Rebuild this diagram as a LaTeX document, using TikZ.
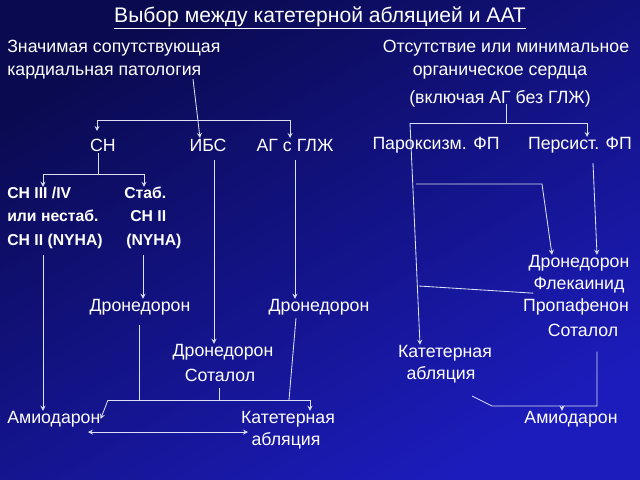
\documentclass[tikz,border=0pt]{standalone}
\usepackage{fontspec}
\setmainfont{Liberation Sans}
\usetikzlibrary{calc, positioning}
\tikzset{
	txt/.style = {text=white, inner sep=0pt, font=\fontsize{12.6}{14}\selectfont},
	bld/.style = {txt, font=\fontsize{11.2}{12}\selectfont\bfseries},
	conn/.style = {draw=linegray, line width=0.6pt},
	arr/.style = {conn, -stealth},
}
\definecolor{linegray}{HTML}{DCE0F4}
\definecolor{bgdark}{HTML}{0A0A50}
\definecolor{bgmid}{HTML}{1010A0}
\definecolor{bglight}{HTML}{1C1CBC}

\begin{document}
\begin{tikzpicture}[x=0.025cm, y=-0.025cm]
	\shade[top color=bgdark, middle color=bgmid, bottom color=bglight, shading angle=30] (0,0) rectangle (640,480);
	\useasboundingbox (0,0) rectangle (640,480);

	\node[txt, font=\fontsize{15}{16}\selectfont] (title) at (320,18) {\underline{Выбор между катетерной абляцией и ААТ}};

	\node[txt, anchor=west] (zn1) at (7,48) {Значимая сопутствующая};
	\node[txt, anchor=west] (zn2) at (7,73) {кардиальная патология};
	\node[txt] (ot1) at (506,48) {Отсутствие или минимальное};
	\node[txt] (ot2) at (500,73) {органическое сердца};
	\node[txt] (ot3) at (500,99) {(включая АГ без ГЛЖ)};

	\node[txt] (sn) at (103,145) {СН};
	\node[txt] (ibs) at (208,145) {ИБС};
	\node[txt] (ag) at (295,145) {АГ с ГЛЖ};
	\node[txt] (parox) at (436,145) {Пароксизм. ФП};
	\node[txt] (pers) at (580,145) {Персист. ФП};

	\node[bld, anchor=west] (hf1) at (7,193) {СН III /IV};
	\node[bld, anchor=west] (hf2) at (7,216) {или нестаб.};
	\node[bld, anchor=west] (hf3) at (7,241) {СН II (NYHA)};
	\node[bld, anchor=west] (st1) at (124,193) {Стаб.};
	\node[bld, anchor=west] (st2) at (130,216) {СН II};
	\node[bld, anchor=west] (st3) at (126,241) {(NYHA)};

	\node[txt] (dr1) at (140,307) {Дронедорон};
	\node[txt] (dr2) at (319,307) {Дронедорон};
	\node[txt] (dr3) at (223,352) {Дронедорон};
	\node[txt] (sot1) at (220,375) {Соталол};
	\node[txt] (dr4) at (579,263) {Дронедорон};
	\node[txt] (fle) at (579,285) {Флекаинид};
	\node[txt] (pro) at (576,307) {Пропафенон};
	\node[txt] (sot2) at (583,330) {Соталол};
	\node[txt] (cat1) at (445,353) {Катетерная};
	\node[txt] (abl1) at (441,375) {абляция};
	\node[txt, anchor=west] (ami1) at (7,419) {Амиодарон};
	\node[txt] (cat2) at (288,419) {Катетерная};
	\node[txt] (abl2) at (286,441) {абляция};
	\node[txt] (ami2) at (571,419) {Амиодарон};

	\coordinate (lbl) at (97,120);
	\coordinate (lbr) at (290,120);
	\coordinate (zs) at (193,79);
	\coordinate (rtop) at (506,104);
	\coordinate (rbl) at (410,123);
	\coordinate (rbr) at (587,123);
	\coordinate (snb) at (98,153);
	\coordinate (snm) at (98,174);
	\coordinate (hbl) at (43,174);
	\coordinate (hbr) at (144,174);
	\coordinate (pj1) at (416,184);
	\coordinate (pk1) at (542,184);
	\coordinate (pj2) at (419,286);
	\coordinate (bbl) at (108,400);
	\coordinate (bbr) at (310,400);
	\coordinate (sr1) at (597,406);
	\coordinate (sr2) at (492,406);

	\draw[arr] (zs) -- (200,138);
	\draw[conn] (lbl) -- (lbr);
	\draw[arr] (lbl) -- ++(0,11);
	\draw[arr] (lbr) -- ++(0,18);

	\draw[conn] (rtop) -- (rtop |- rbl);
	\draw[conn] (rbl) -- (rbr);
	\draw[arr] (rbr) -- ++(0,14);
	\draw[arr] (rbl) -- (cat1.north -| 420,0);
	\draw[arr] (pj1) -- (pk1) -- (dr4.north -| 552,0);
	\draw[arr] (593,163) -- (dr4.north -| 597,0);
	\draw[conn] (pj2) -- (fle.south west);

	\draw[conn] (snb) -- (snm);
	\draw[conn] (hbl) -- (hbr);
	\draw[arr] (hbl) -- (hf1.north -| hbl);
	\draw[arr] (hbr) -- (st1.north -| hbr);
	\draw[arr] (43,255) -- (ami1.north -| 43,0);
	\draw[arr] (143,255) -- (dr1.north -| 143,0);
	\draw[arr] (214,160) -- (dr3.north -| 214,0);
	\draw[arr] (295,160) -- (dr2.north -| 295,0);

	\draw[conn] (139,325) -- (bbl -| 139,0);
	\draw[conn] (sot1.south -| 219,0) ++(0,6) -- (bbl -| 219,0);
	\draw[conn] (296,318) -- (bbl -| 289,0);
	\draw[conn] (bbl) -- (bbr);
	\draw[arr] (bbl) -- (ami1.east);
	\draw[arr] (bbr) -- (cat2.north -| bbr);
	\draw[stealth-stealth, conn] (88,432) -- (248,432);

	\draw[conn] (sot2.south -| sr1) ++(0,15) -- (sr1) -- (sr2) -- (472,396);
	\draw[arr] (sr1 -| 562,0) -- (ami2.north -| 562,0);
\end{tikzpicture}
\end{document}
